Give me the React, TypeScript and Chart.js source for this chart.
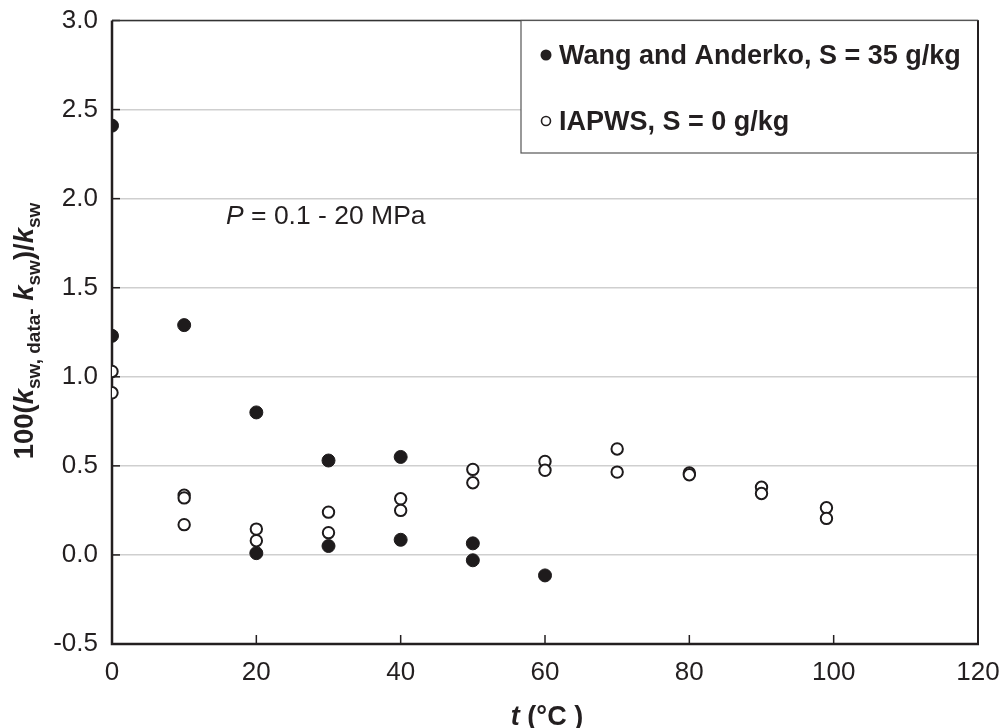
import React, { useEffect, useRef } from "react";
import { Chart, registerables } from "chart.js";

Chart.register(...registerables);

// ---- Data ----
const wangT = [0, 0, 10, 20, 20, 30, 30, 40, 40, 50, 50, 60];
const wangValues = [2.41, 1.23, 1.29, 0.8, 0.01, 0.53, 0.05, 0.55, 0.085, 0.065, -0.03, -0.115];

const iapwsT = [0, 0, 10, 10, 10, 20, 20, 30, 30, 40, 40, 50, 50, 60, 60, 70, 70, 80, 80, 90, 90, 99, 99];
const iapwsValues = [
  1.03, 0.91, 0.335, 0.32, 0.17, 0.145, 0.08, 0.24, 0.125, 0.315, 0.25, 0.48, 0.405, 0.525, 0.475,
  0.595, 0.465, 0.46, 0.45, 0.38, 0.345, 0.265, 0.205,
];

const xTicks = [0, 20, 40, 60, 80, 100, 120];
const yTicks = [-0.5, 0, 0.5, 1.0, 1.5, 2.0, 2.5, 3.0];

const legendLabels = ["Wang and Anderko, S = 35 g/kg", "IAPWS, S = 0 g/kg"];
const annotationText = { italic: "P", rest: " = 0.1 - 20 MPa" };

const INK = "#231f20";
const FONT = "'Liberation Sans', Arial, Helvetica, sans-serif";

type Part = { text: string; font: string; dy: number };

function drawRich(ctx: CanvasRenderingContext2D, parts: Part[], cx: number, baseY: number) {
  let total = 0;
  for (const p of parts) {
    ctx.font = p.font;
    total += ctx.measureText(p.text).width;
  }
  let x = cx - total / 2;
  ctx.textAlign = "left";
  ctx.textBaseline = "alphabetic";
  for (const p of parts) {
    ctx.font = p.font;
    ctx.fillText(p.text, x, baseY + p.dy);
    x += ctx.measureText(p.text).width;
  }
}

const overlayPlugin = {
  id: "overlay",
  beforeDatasetsDraw(chart: any) {
    const { ctx, chartArea } = chart;
    const { left, right, top, bottom } = chartArea;
    const x = chart.scales.x;
    const y = chart.scales.y;
    ctx.save();
    ctx.strokeStyle = INK;
    ctx.lineWidth = 1.5;
    for (const v of yTicks) {
      const py = y.getPixelForValue(v);
      ctx.beginPath();
      ctx.moveTo(left, py);
      ctx.lineTo(left + 8, py);
      ctx.stroke();
    }
    for (const v of xTicks) {
      if (v === xTicks[0] || v === xTicks[xTicks.length - 1]) continue;
      const px = x.getPixelForValue(v);
      ctx.beginPath();
      ctx.moveTo(px, bottom);
      ctx.lineTo(px, bottom - 9);
      ctx.stroke();
    }
    ctx.strokeStyle = "#333";
    ctx.lineWidth = 1.5;
    ctx.beginPath();
    ctx.moveTo(left, top);
    ctx.lineTo(right, top);
    ctx.stroke();
    ctx.strokeStyle = INK;
    ctx.lineWidth = 2;
    ctx.beginPath();
    ctx.moveTo(right, top);
    ctx.lineTo(right, bottom);
    ctx.stroke();
    ctx.lineWidth = 2.5;
    ctx.beginPath();
    ctx.moveTo(left, top);
    ctx.lineTo(left, bottom);
    ctx.lineTo(right + 1, bottom);
    ctx.stroke();
    ctx.restore();
  },
  afterDraw(chart: any) {
    const { ctx, chartArea } = chart;
    const { right, top } = chartArea;
    ctx.save();

    // Legend box
    const bx = 521;
    const by = top;
    const bw = right - bx;
    const bh = 153 - top;
    ctx.fillStyle = "#fff";
    ctx.fillRect(bx, by, bw, bh);
    ctx.strokeStyle = "#555";
    ctx.lineWidth = 1.2;
    ctx.strokeRect(bx, by, bw, bh);
    ctx.strokeStyle = INK;
    ctx.lineWidth = 2;
    ctx.beginPath();
    ctx.moveTo(right, top);
    ctx.lineTo(right, 153);
    ctx.stroke();

    ctx.fillStyle = INK;
    ctx.font = `bold 27px ${FONT}`;
    ctx.textAlign = "left";
    ctx.textBaseline = "alphabetic";
    ctx.beginPath();
    ctx.arc(546, 55, 5.5, 0, Math.PI * 2);
    ctx.fill();
    ctx.fillText(legendLabels[0], 559, 64);
    ctx.beginPath();
    ctx.arc(546, 121, 4.5, 0, Math.PI * 2);
    ctx.fillStyle = "#fff";
    ctx.fill();
    ctx.strokeStyle = INK;
    ctx.lineWidth = 1.6;
    ctx.stroke();
    ctx.fillStyle = INK;
    ctx.fillText(legendLabels[1], 559, 130);

    // Annotation
    ctx.font = `italic 26.5px ${FONT}`;
    ctx.fillText(annotationText.italic, 226, 224);
    const pw = ctx.measureText(annotationText.italic).width;
    ctx.font = `26.5px ${FONT}`;
    ctx.fillText(annotationText.rest, 226 + pw, 224);

    // X title
    drawRich(
      ctx,
      [
        { text: "t", font: `italic bold 27px ${FONT}`, dy: 0 },
        { text: " (°C )", font: `bold 27px ${FONT}`, dy: 0 },
      ],
      547,
      725
    );

    // Y title (rotated)
    ctx.save();
    ctx.translate(33, 331);
    ctx.rotate(-Math.PI / 2);
    const big = `bold 27.5px ${FONT}`;
    const bigI = `italic bold 27.5px ${FONT}`;
    const sub = `bold 19px ${FONT}`;
    drawRich(
      ctx,
      [
        { text: "100(", font: big, dy: 0 },
        { text: "k", font: bigI, dy: 0 },
        { text: "sw, data", font: sub, dy: 7 },
        { text: "-", font: sub, dy: 4 },
        { text: " ", font: big, dy: 0 },
        { text: "k", font: bigI, dy: 0 },
        { text: "sw", font: sub, dy: 7 },
        { text: ")/", font: big, dy: 0 },
        { text: "k", font: bigI, dy: 0 },
        { text: "sw", font: sub, dy: 7 },
      ],
      0,
      0
    );
    ctx.restore();

    ctx.restore();
  },
};

export default function App() {
  const canvasRef = useRef<HTMLCanvasElement | null>(null);

  useEffect(() => {
    if (!canvasRef.current) return;
    const chart = new Chart(canvasRef.current, {
      type: "scatter",
      data: {
        datasets: [
          {
            label: legendLabels[0],
            data: wangT.map((t, i) => ({ x: t, y: wangValues[i] })),
            pointRadius: 6.5,
            pointBorderWidth: 1,
            pointBackgroundColor: "#1e1b1c",
            pointBorderColor: "#1e1b1c",
            pointHoverRadius: 6.5,
          },
          {
            label: legendLabels[1],
            data: iapwsT.map((t, i) => ({ x: t, y: iapwsValues[i] })),
            pointRadius: 5.7,
            pointBorderWidth: 2,
            pointBackgroundColor: "#ffffff",
            pointBorderColor: "#1e1b1c",
            pointHoverRadius: 5.7,
          },
        ],
      },
      options: {
        animation: false,
        responsive: true,
        maintainAspectRatio: false,
        layout: { padding: { top: 20.5, right: 27, left: 0, bottom: 0 } },
        plugins: {
          legend: { display: false },
          tooltip: { enabled: false },
          title: { display: false },
        },
        scales: {
          x: {
            type: "linear",
            min: xTicks[0],
            max: xTicks[xTicks.length - 1],
            afterBuildTicks: (scale: any) => {
              scale.ticks = xTicks.map((v) => ({ value: v }));
            },
            afterFit: (scale: any) => {
              scale.height = 84;
              scale.paddingLeft = 0;
              scale.paddingRight = 0;
            },
            grid: { display: false, drawTicks: false },
            border: { display: false },
            ticks: {
              color: INK,
              font: { family: FONT, size: 26 },
              padding: 13,
              maxRotation: 0,
              autoSkip: false,
            },
          },
          y: {
            type: "linear",
            min: yTicks[0],
            max: yTicks[yTicks.length - 1],
            afterBuildTicks: (scale: any) => {
              scale.ticks = yTicks.map((v) => ({ value: v }));
            },
            afterFit: (scale: any) => {
              scale.width = 112;
              scale.paddingTop = 0;
              scale.paddingBottom = 0;
            },
            grid: { color: "#cfcfcf", lineWidth: 1.6, drawTicks: false },
            border: { display: false },
            ticks: {
              color: INK,
              font: { family: FONT, size: 26 },
              padding: 14,
              autoSkip: false,
              callback: (v: any) => Number(v).toFixed(1),
            },
          },
        },
      },
      plugins: [overlayPlugin],
    });
    return () => chart.destroy();
  }, []);

  return (
    <div style={{ position: "fixed", left: 0, top: 0, width: 1005, height: 728, background: "#fff" }}>
      <canvas ref={canvasRef} />
    </div>
  );
}
